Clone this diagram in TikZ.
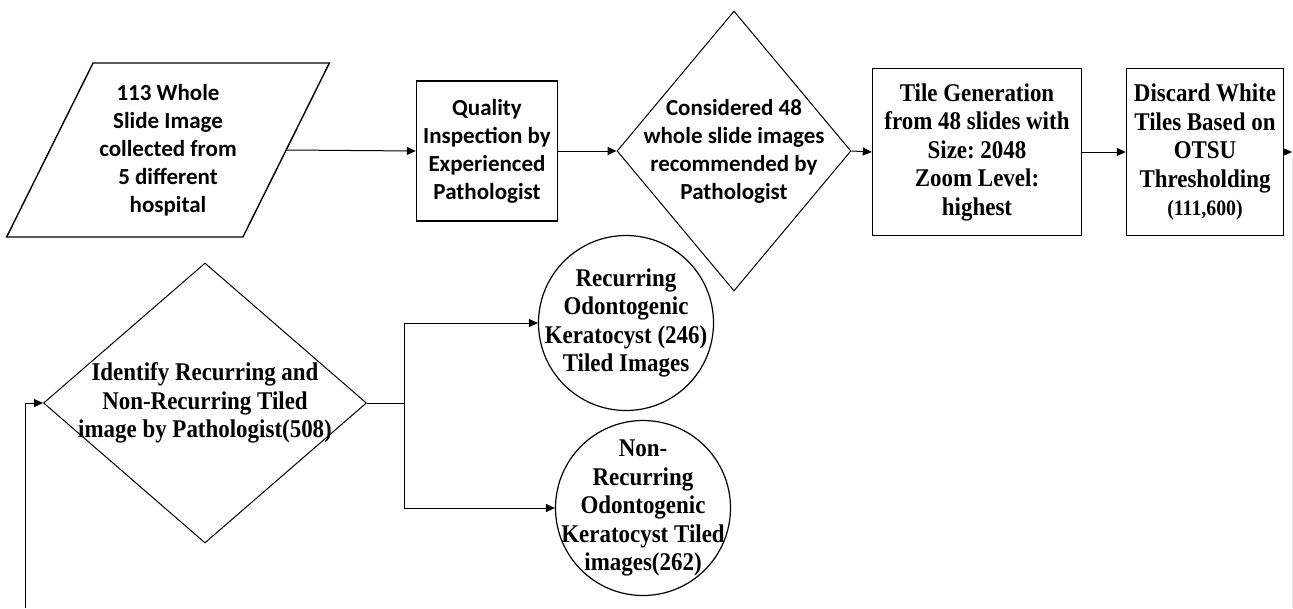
\documentclass[tikz,border=0pt]{standalone}
\usepackage{fontspec}
\setmainfont{Liberation Serif}[FakeStretch=0.9]
\newfontfamily\calibri{Carlito}
\usetikzlibrary{shapes.geometric, arrows.meta}

\begin{document}
\frenchspacing
\begin{tikzpicture}[
    x=1pt, y=-1pt,
    >={Triangle[length=9pt, width=8pt]},
    % --- Text styles ---
    sanstxt/.style={font=\calibri\bfseries\fontsize{23}{28}\selectfont, align=center},
    seriftxt/.style={font=\bfseries\fontsize{25.5}{28.5}\selectfont, align=center},
    % --- Shape styles ---
    inputbox/.style={trapezium, trapezium left angle=59, trapezium right angle=121,
        trapezium stretches, draw, line width=1.4pt,
        minimum width=323pt, minimum height=174pt, inner sep=2pt},
    procbox/.style={rectangle, draw, line width=1.4pt, inner sep=2pt},
    decision/.style={diamond, draw, line width=1pt, inner sep=0pt},
    outcome/.style={circle, draw, line width=1.2pt, minimum size=175pt, inner sep=0pt},
    % --- Arrow styles ---
    flow/.style={->, line width=1pt},
]
\useasboundingbox (0,0) rectangle (1293,608);

% =============================================
%  Top row: slide collection to tiling
% =============================================
\node[inputbox, sanstxt] (slide) at (168,150)
    {113 Whole\\Slide Image\\collected from\\5 different\\hospital};
\node[procbox, sanstxt, minimum width=141pt, minimum height=140pt] (qual) at (487,151)
    {Quality\\Inspection by\\Experienced\\Pathologist};
\node[decision, minimum width=234pt, minimum height=280pt,
      label={[sanstxt]center:{Considered 48\\whole slide images\\recommended by\\Pathologist}}]
    (cons) at (734,151) {};
\node[procbox, seriftxt, minimum width=209pt, minimum height=167pt] (tile) at (977,152)
    {Tile Generation\\from 48 slides with\\Size: 2048\\Zoom Level:\\highest};
\node[procbox, seriftxt, minimum width=157pt, minimum height=167pt] (disc) at (1205,152)
    {Discard White\\Tiles Based on\\OTSU\\Thresholding\\{\fontsize{22}{28.5}\selectfont(111,600)}};

% =============================================
%  Bottom row: labelling and classes
% =============================================
\node[decision, minimum width=323pt, minimum height=280pt,
      label={[seriftxt]center:{Identify Recurring and\\Non-Recurring Tiled\\image by Pathologist(508)}}]
    (ident) at (205,403) {};
\node[outcome,
      label={[seriftxt]center:{Recurring\\Odontogenic\\Keratocyst (246)\\Tiled Images}}]
    (rec) at (626,323) {};
\node[outcome,
      label={[seriftxt]center:{Non-\\Recurring\\Odontogenic\\Keratocyst Tiled\\images(262)}}]
    (nonrec) at (643,508) {};

% =============================================
%  Connections
% =============================================
\draw[flow] (slide.east) -- (qual.west);
\draw[flow] (qual.east) -- (cons.west);
\draw[flow] (cons.east) -- (tile.west);
\draw[flow] (tile.east) -- (disc.west);

% Loop leaving on the right, entering on the left
\coordinate (exitR) at (1292,152);
\draw[flow] (disc.east) -- (exitR);
\coordinate (edgetop) at (1292,157);
\coordinate (edgebot) at (1292,608);
\draw[black!12, line width=1pt] (edgetop) -- (edgebot);
\coordinate (entryL) at (25,608);
\draw[flow] (entryL) |- (ident.west);

% Split into the two classes
\draw[line width=1pt] (ident.east) -- ++(37,0) coordinate (split);
\draw[flow] (split) |- (rec.west);
\draw[flow] (split) |- (nonrec.west);

\end{tikzpicture}
\end{document}
